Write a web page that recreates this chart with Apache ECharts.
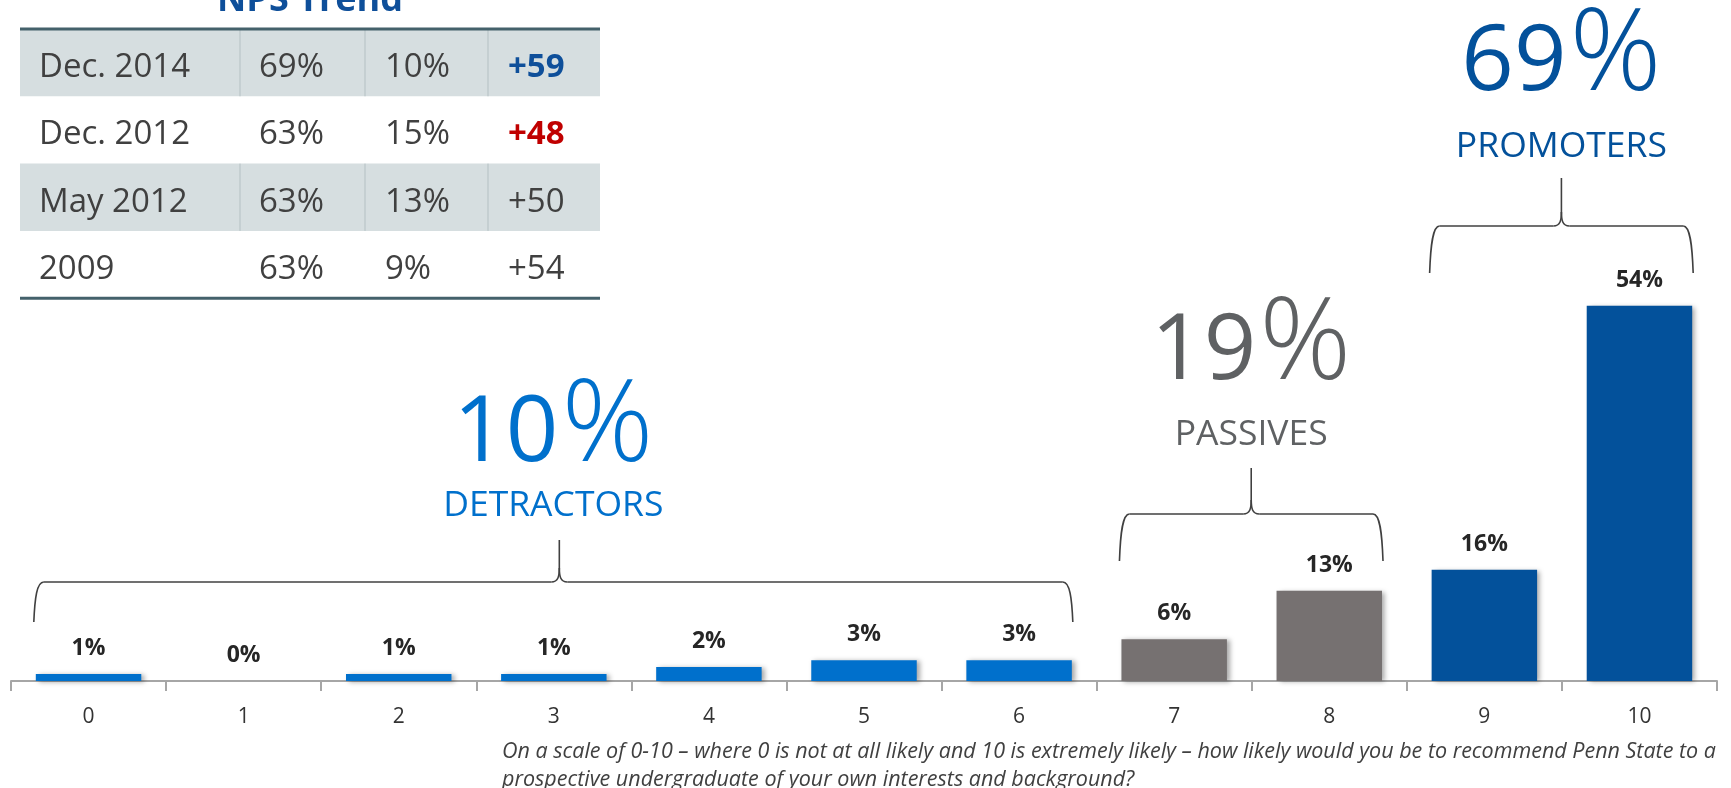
<!DOCTYPE html>
<html>
<head>
<meta charset="utf-8">
<script src="https://cdn.jsdelivr.net/npm/echarts@6/dist/echarts.min.js"></script>
<style>
html,body{margin:0;padding:0;background:#ffffff;}
#chart{width:1731px;height:788px;}
</style>
</head>
<body>
<div id="chart"></div>
<script>
// ---------------- data ----------------
const categories = ['0','1','2','3','4','5','6','7','8','9','10'];
const values = [1, 0, 1, 1, 2, 3, 3, 6, 13, 16, 54];
const groupNames = ['DETRACTORS', 'PASSIVES', 'PROMOTERS'];
const groupTotals = ['10', '19', '69'];
const groupFirst = [0, 7, 9];
const groupLast = [6, 8, 10];

const trendTitle = 'NPS Trend';
const trendPeriods = ['Dec. 2014', 'Dec. 2012', 'May 2012', '2009'];
const trendPromoters = ['69%', '63%', '63%', '63%'];
const trendDetractors = ['10%', '15%', '13%', '9%'];
const trendNps = ['+59', '+48', '+50', '+54'];

const footnoteLines = [
  'On a scale of 0-10 \u2013 where 0 is not at all likely and 10 is extremely likely \u2013 how likely would you be to recommend Penn State to a',
  'prospective undergraduate of your own interests and background?'
];

// ---------------- styles ----------------
const FONT = '"Open Sans", "Noto Sans", sans-serif';
const groupColors = ['#0070CC', '#767171', '#03519B'];
const groupTextColors = ['#0070CC', '#5F6163', '#03519B'];
const npsColors = ['#0E4F9A', '#C00000', '#404040', '#404040'];
const npsBold = [true, true, false, false];

function groupIndexOf(i) {
  for (let g = 0; g < groupFirst.length; g++) {
    if (i >= groupFirst[g] && i <= groupLast[g]) return g;
  }
  return 0;
}

const chart = echarts.init(document.getElementById('chart'), null, {renderer: 'canvas'});

chart.setOption({
  animation: false,
  backgroundColor: '#ffffff',
  grid: {left: 11, right: 14, top: 264, bottom: 107, containLabel: false},
  xAxis: {
    type: 'category',
    data: categories,
    boundaryGap: true,
    axisLine: {show: true, lineStyle: {color: '#A6A6A6', width: 2}},
    axisTick: {show: true, length: 10, lineStyle: {color: '#A6A6A6', width: 2}},
    axisLabel: {color: '#333333', fontSize: 21, fontFamily: FONT, margin: 26}
  },
  yAxis: {type: 'value', min: 0, max: 60, show: false, splitLine: {show: false}},
  series: [{
    type: 'bar',
    barWidth: '68%',
    data: values.map((v, i) => ({
      value: v,
      itemStyle: {
        color: groupColors[groupIndexOf(i)],
        shadowColor: 'rgba(0,0,0,0.35)',
        shadowBlur: 5,
        shadowOffsetX: 3,
        shadowOffsetY: 1
      }
    })),
    label: {
      show: true,
      position: 'top',
      distance: 14,
      formatter: '{c}%',
      color: '#262626',
      fontSize: 23,
      fontWeight: 'bold',
      fontFamily: FONT
    }
  }]
});

// ---------------- overlay graphics ----------------
const layout = {
  table: {left: 20, right: 600, top: 29, rowH: 67.3, colX: [39, 259, 385, 508], dividers: [240, 365, 488]},
  braces: [
    {yEnd: 622, yH: 582, yPeak: 540, peakShift: 6},
    {yEnd: 561, yH: 514, yPeak: 468, peakShift: 0},
    {yEnd: 273, yH: 226, yPeak: 178, peakShift: 0}
  ],
  totals: [
    {baseY: 461, nameY: 506},
    {baseY: 379, nameY: 435},
    {baseY: 90, nameY: 147}
  ],
  numSize: 92, pctSize: 114, pctGap: 3, nameSize: 35.5
};

const measureCtx = document.createElement('canvas').getContext('2d');
function textWidth(txt, font) { measureCtx.font = font; return measureCtx.measureText(txt).width; }

function buildGraphics() {
  const els = [];
  const x0 = chart.convertToPixel({xAxisIndex: 0}, categories[0]);
  const x1 = chart.convertToPixel({xAxisIndex: 0}, categories[1]);
  const cw = x1 - x0;
  const half = cw * 0.34;
  const lineStyle = {stroke: '#404040', lineWidth: 1.6, fill: null};

  groupNames.forEach((name, g) => {
    const xl = chart.convertToPixel({xAxisIndex: 0}, categories[groupFirst[g]]) - half - 2;
    const xr = chart.convertToPixel({xAxisIndex: 0}, categories[groupLast[g]]) + half + 1;
    const xc = (xl + xr) / 2;
    const b = layout.braces[g];
    const xm = xc + b.peakShift;
    const h = b.yEnd - b.yH;
    els.push({type: 'bezierCurve', shape: {x1: xl, y1: b.yEnd, cpx1: xl + 1, cpy1: b.yEnd - 0.6 * h, cpx2: xl + 3, cpy2: b.yH, x2: xl + 10, y2: b.yH}, style: lineStyle});
    els.push({type: 'line', shape: {x1: xl + 10, y1: b.yH, x2: xm - 8, y2: b.yH}, style: lineStyle});
    els.push({type: 'bezierCurve', shape: {x1: xm - 8, y1: b.yH, cpx1: xm - 1, cpy1: b.yH, cpx2: xm, cpy2: b.yH - 6, x2: xm, y2: b.yH - 14}, style: lineStyle});
    els.push({type: 'line', shape: {x1: xm, y1: b.yH - 14, x2: xm, y2: b.yPeak}, style: lineStyle});
    els.push({type: 'bezierCurve', shape: {x1: xm + 8, y1: b.yH, cpx1: xm + 1, cpy1: b.yH, cpx2: xm, cpy2: b.yH - 6, x2: xm, y2: b.yH - 14}, style: lineStyle});
    els.push({type: 'line', shape: {x1: xm + 8, y1: b.yH, x2: xr - 10, y2: b.yH}, style: lineStyle});
    els.push({type: 'bezierCurve', shape: {x1: xr, y1: b.yEnd, cpx1: xr - 1, cpy1: b.yEnd - 0.6 * h, cpx2: xr - 3, cpy2: b.yH, x2: xr - 10, y2: b.yH}, style: lineStyle});

    const t = layout.totals[g];
    const numFont = 'normal ' + layout.numSize + 'px "Open Sans"';
    const pctFont = '300 ' + layout.pctSize + 'px "Open Sans"';
    const wn = textWidth(groupTotals[g], numFont);
    const wp = textWidth('%', pctFont);
    const left = xc - (wn + layout.pctGap + wp) / 2;
    els.push({type: 'text', x: left, y: t.baseY - 0.285 * layout.numSize,
      style: {text: groupTotals[g], align: 'left', verticalAlign: 'middle', fill: groupTextColors[g], fontSize: layout.numSize, fontWeight: 'normal', fontFamily: FONT}});
    els.push({type: 'text', x: left + wn + layout.pctGap, y: t.baseY - 0.285 * layout.pctSize,
      style: {text: '%', align: 'left', verticalAlign: 'middle', fill: groupTextColors[g], fontSize: layout.pctSize, fontWeight: 300, fontFamily: FONT}});
    els.push({type: 'text', x: xc, y: t.nameY,
      style: {text: name, align: 'center', verticalAlign: 'middle', fill: groupTextColors[g], fontSize: layout.nameSize, fontFamily: FONT}});
  });

  // table
  const T = layout.table;
  els.push({type: 'text', x: (T.left + T.right) / 2, y: 1, style: {text: trendTitle, align: 'center', verticalAlign: 'middle', fill: '#0E4F9A', fontSize: 36, fontWeight: 'bold', fontFamily: FONT}});
  trendPeriods.forEach((p, r) => {
    const yTop = T.top + r * T.rowH;
    if (r % 2 === 0) {
      els.push({type: 'rect', shape: {x: T.left, y: yTop, width: T.right - T.left, height: T.rowH}, style: {fill: '#D6DEE0'}});
      T.dividers.forEach(dx => {
        els.push({type: 'line', shape: {x1: dx, y1: yTop, x2: dx, y2: yTop + T.rowH}, style: {stroke: '#B4C0C3', lineWidth: 1}});
      });
    }
    const cy = yTop + T.rowH / 2 + 5;
    const cells = [p, trendPromoters[r], trendDetractors[r], trendNps[r]];
    cells.forEach((txt, c) => {
      els.push({type: 'text', x: T.colX[c], y: cy, style: {
        text: txt, align: 'left', verticalAlign: 'middle',
        fill: c === 3 ? npsColors[r] : '#404040',
        fontSize: 33, fontFamily: FONT,
        fontWeight: (c === 3 && npsBold[r]) ? 'bold' : 'normal'
      }});
    });
  });
  els.push({type: 'line', shape: {x1: T.left, y1: T.top, x2: T.right, y2: T.top}, style: {stroke: '#44616B', lineWidth: 3}});
  const yBot = T.top + trendPeriods.length * T.rowH;
  els.push({type: 'line', shape: {x1: T.left, y1: yBot, x2: T.right, y2: yBot}, style: {stroke: '#44616B', lineWidth: 3}});

  // footnote
  footnoteLines.forEach((ln, i) => {
    els.push({type: 'text', x: 502, y: 752 + i * 27.5, style: {text: ln, align: 'left', verticalAlign: 'middle', fill: '#404040', fontSize: 21.5, fontStyle: 'italic', fontFamily: FONT}});
  });
  return els;
}

chart.setOption({graphic: {elements: buildGraphics()}});
if (document.fonts && document.fonts.load) {
  Promise.all([document.fonts.load('300 114px "Open Sans"'), document.fonts.load('92px "Open Sans"')]).then(() => {
    chart.setOption({graphic: {elements: buildGraphics()}}, {replaceMerge: ['graphic']});
  });
}
</script>
</body>
</html>
